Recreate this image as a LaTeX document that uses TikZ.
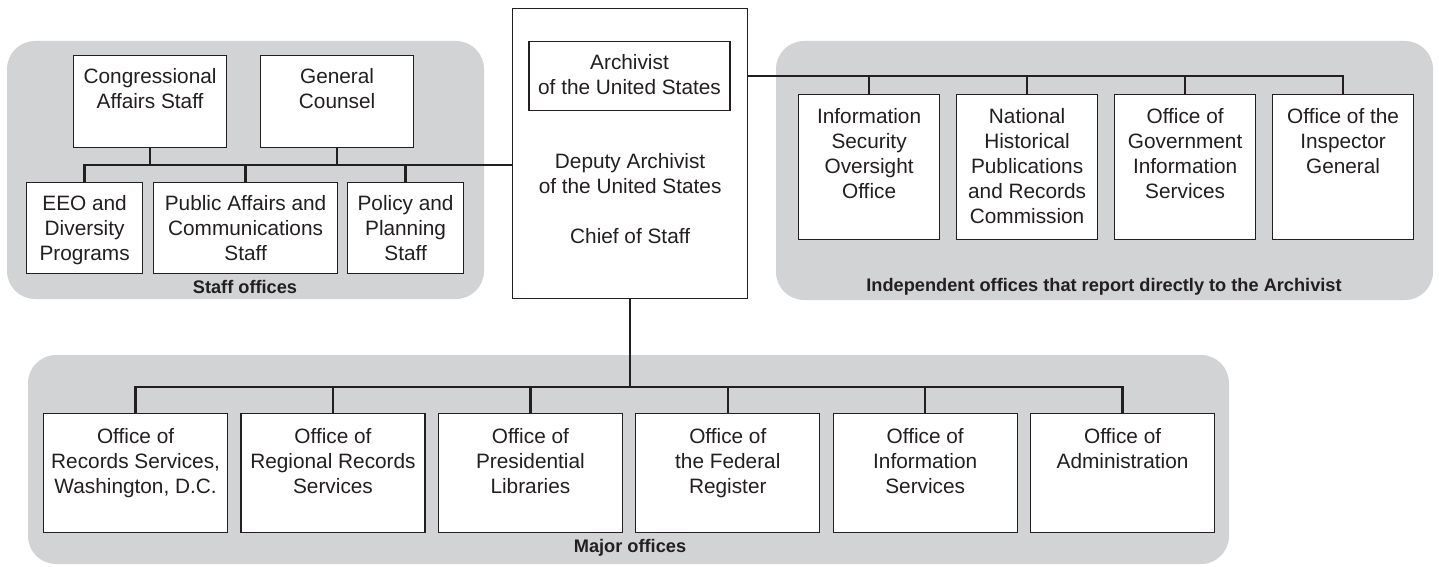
\documentclass[tikz,border=0pt]{standalone}
\usepackage{fontspec}
\setmainfont{Liberation Sans}
\usetikzlibrary{positioning}
\definecolor{ink}{RGB}{35,31,32}
\definecolor{panelgray}{RGB}{209,211,212}
\newcommand{\officefont}{\fontsize{10.4}{12.5}\selectfont}
\newcommand{\officelines}[1]{\begin{tabular}[t]{@{}c@{}}#1\end{tabular}}

\begin{document}
\begin{tikzpicture}[x=0.5pt, y=-0.5pt]
        \tikzstyle{office} = [draw=ink, line width=0.6pt, fill=white, text=ink, rectangle, inner sep=0pt, font=\officefont]
        \tikzstyle{upperstaff} = [office, minimum width=76.5pt, text height=14pt, text depth=32pt]
        \tikzstyle{lowerstaff} = [office, text height=14pt, text depth=31.5pt]
        \tikzstyle{independent} = [office, minimum width=70.5pt, text height=14.5pt, text depth=58pt]
        \tikzstyle{major} = [office, minimum width=92pt, text height=15pt, text depth=44.5pt]
        \tikzstyle{panel} = [fill=panelgray, rounded corners=14pt]
        \tikzstyle{caption} = [text=ink, font={\fontsize{9.1}{11}\selectfont\bfseries}]
        \tikzstyle{link} = [draw=ink, line width=1.2pt]
        \useasboundingbox (0,0) rectangle (1439,567);
        \fill[panel] (7,41) rectangle (484,299);
        \fill[panel] (776,41) rectangle (1433,300);
        \fill[panel] (28,355) rectangle (1229,564);

        \node (deputy) [office, minimum width=117.5pt, text height=80pt, text depth=65pt, anchor=north west] at (512,8) {\officelines{Deputy Archivist\\of the United States\\[12.5pt]Chief of Staff}};
        \node (archivist) [office, minimum width=100.5pt, text height=14pt, text depth=20.5pt, anchor=north] at (629.5,41) {\officelines{Archivist\\of the United States}};

        \node (congress) [upperstaff, anchor=north west] at (73,55) {\officelines{Congressional\\Affairs Staff}};
        \node (counsel) [upperstaff, right=16.4pt of congress] {\officelines{General\\Counsel}};
        \node (eeo) [lowerstaff, minimum width=58pt, anchor=north west] at (26,182) {\officelines{EEO and\\Diversity\\Programs}};
        \node (publicaffairs) [lowerstaff, minimum width=92pt, right=4.9pt of eeo] {\officelines{Public Affairs and\\Communications\\Staff}};
        \node (policy) [lowerstaff, minimum width=58pt, right=4.4pt of publicaffairs] {\officelines{Policy and\\Planning\\Staff}};

        \node (isoo) [independent, anchor=north west] at (798,94) {\officelines{Information\\Security\\Oversight\\Office}};
        \node (nhprc) [independent, right=7.9pt of isoo] {\officelines{National\\Historical\\Publications\\and Records\\Commission}};
        \node (ogis) [independent, right=7.9pt of nhprc] {\officelines{Office of\\Government\\Information\\Services}};
        \node (oig) [independent, right=7.9pt of ogis] {\officelines{Office of the\\Inspector\\General}};

        \node (records) [major, anchor=north west] at (43,413) {\officelines{Office of\\Records Services,\\Washington, D.C.}};
        \node (regional) [major, right=6.1pt of records] {\officelines{Office of\\Regional Records\\Services}};
        \node (presidential) [major, right=6.1pt of regional] {\officelines{Office of\\Presidential\\Libraries}};
        \node (register) [major, right=6.1pt of presidential] {\officelines{Office of\\the Federal\\Register}};
        \node (infoservices) [major, right=6.1pt of register] {\officelines{Office of\\Information\\Services}};
        \node (admin) [major, right=6.1pt of infoservices] {\officelines{Office of\\Administration}};

        \node (stafflabel) [caption] at (245,287) {Staff offices};
        \node (independentlabel) [caption] at (1104,287) {Independent offices that report directly to the Archivist};
        \node (majorlabel) [caption] at (630,548) {Major offices};

        \coordinate (staffbus) at (0,165);
        \coordinate (majorbus) at (0,387);
        \draw[link] (eeo) |- (deputy.west |- staffbus);
        \draw[link] (congress) -- (congress |- staffbus);
        \draw[link] (counsel) -- (counsel |- staffbus);
        \draw[link] (publicaffairs) -- (publicaffairs |- staffbus);
        \draw[link] (policy) -- (policy |- staffbus);
        \draw[link] (deputy.east |- archivist) -| (oig);
        \draw[link] (isoo) -- (isoo |- archivist);
        \draw[link] (nhprc) -- (nhprc |- archivist);
        \draw[link] (ogis) -- (ogis |- archivist);
        \draw[link] (deputy) -- (deputy |- majorbus);
        \draw[link] (records) |- (admin |- majorbus) -- (admin);
        \draw[link] (regional) -- (regional |- majorbus);
        \draw[link] (presidential) -- (presidential |- majorbus);
        \draw[link] (register) -- (register |- majorbus);
        \draw[link] (infoservices) -- (infoservices |- majorbus);
\end{tikzpicture}
\end{document}
